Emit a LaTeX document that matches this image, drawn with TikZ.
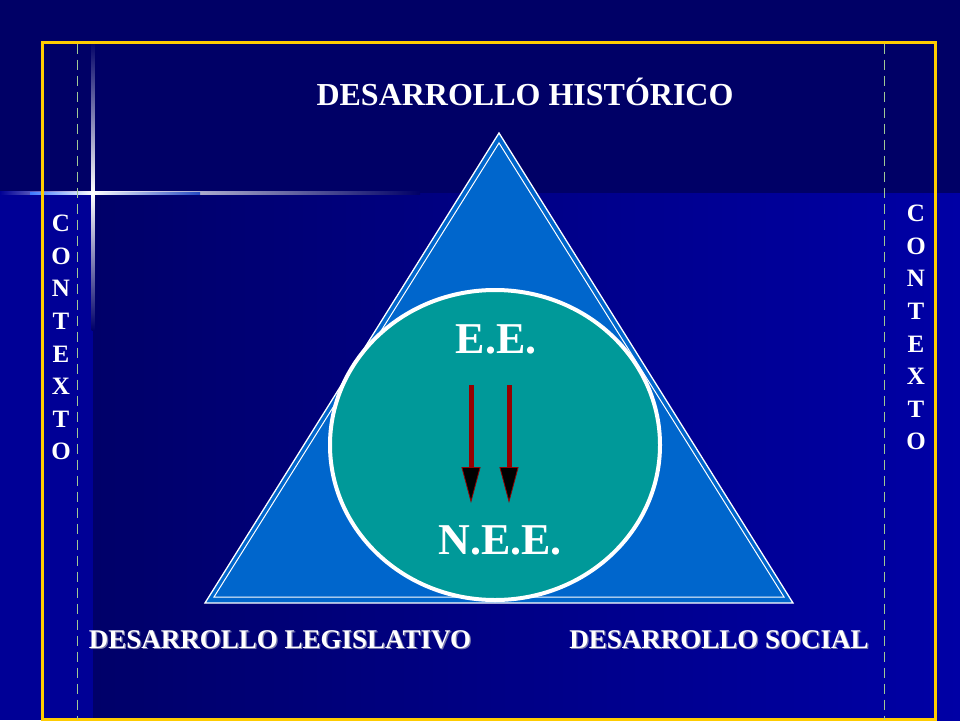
\documentclass[tikz,border=0pt]{standalone}
\usepackage{fontspec}
\setmainfont{Liberation Serif}
\usetikzlibrary{arrows.meta,shapes.geometric}
\definecolor{navy}{RGB}{0,0,102}
\definecolor{bgleft}{RGB}{0,0,150}
\definecolor{bgdark}{RGB}{0,0,105}
\definecolor{bgright}{RGB}{0,0,165}
\definecolor{triblue}{RGB}{0,102,204}
\definecolor{circteal}{RGB}{0,153,153}
\definecolor{arrred}{RGB}{150,0,0}
\definecolor{frameyellow}{RGB}{255,204,0}
\definecolor{dashgreen}{RGB}{160,200,150}
\definecolor{glow}{RGB}{60,120,255}
\definecolor{shadowgray}{RGB}{120,120,170}
\tikzset{
  lbl/.style={text=white, inner sep=0pt, anchor=base, font=\bfseries\fontsize{27}{32}\selectfont},
  shd/.style={lbl, text=shadowgray},
  biglbl/.style={text=white, inner sep=0pt, anchor=base, font=\bfseries\fontsize{44}{50}\selectfont},
  vert/.style={text=white, inner sep=0pt, anchor=north, align=center, font=\bfseries\fontsize{25}{32.6}\selectfont},
  arr/.style={draw=arrred, line width=5pt, -{Triangle[width=19pt,length=36pt,fill=black,line width=0.8pt]}},
  dashline/.style={draw=dashgreen, line width=0.9pt, dash pattern=on 10pt off 6pt},
}
\begin{document}
\begin{tikzpicture}[x=1pt,y=-1pt]
\useasboundingbox (0,0) rectangle (960,720);
% background
\fill[navy] (0,0) rectangle (960,720);
\fill[bgleft] (0,193) rectangle (93,720);
\shade[left color=bgdark, right color=bgright] (93,193) rectangle (960,720);
% flare
\shade[left color=bgleft, right color=white] (0,191.5) rectangle (93,194.5);
\shade[left color=white, right color=navy] (93,191.5) rectangle (420,194.5);
\shade[top color=navy, bottom color=white] (91.5,40) rectangle (94.5,193);
\shade[top color=white, bottom color=bgdark] (91.5,193) rectangle (94.5,330);
\shade[left color=glow, right color=white] (30,192) rectangle (93,194);
\shade[left color=white, right color=glow!60!navy] (93,192) rectangle (200,194);
% frame
\draw[frameyellow, line width=3pt] (42,42) rectangle (935,719);
\draw[dashline] (77,43.5) -- (77,720);
\draw[dashline] (884,43.5) -- (884,720);
% triangle
\draw[white, line width=1.3pt, fill=triblue] (499,133) -- (205,603) -- (793,603) -- cycle;
\draw[white, line width=1pt] (499,143) -- (214,597) -- (784,597) -- cycle;
% circle
\node[ellipse, draw=white, line width=4pt, fill=circteal, minimum width=330pt, minimum height=310pt, inner sep=0pt] (circ) at (495,445) {};
% texts
\node[lbl, font=\bfseries\fontsize{32}{36}\selectfont] (hist) at (525,105) {DESARROLLO HISTÓRICO};
\node[shd] (legiss) at (281.2,649.2) {DESARROLLO LEGISLATIVO};
\node[shd] (socials) at (720.2,649.2) {DESARROLLO SOCIAL};
\node[lbl] (legis) at (280,648) {DESARROLLO LEGISLATIVO};
\node[lbl] (social) at (719,648) {DESARROLLO SOCIAL};
\node[biglbl] (ee) at (496,353) {E.E.};
\node[biglbl] (nee) at (500,554) {N.E.E.};
\node[vert] (ctxl) at (61,215) {C\\O\\N\\T\\E\\X\\T\\O};
\node[vert] (ctxr) at (916,205) {C\\O\\N\\T\\E\\X\\T\\O};
% arrows
\coordinate (a1s) at (471,385);
\coordinate (a1e) at (471,503);
\coordinate (a2s) at (509,385);
\coordinate (a2e) at (509,503);
\draw[arr] (a1s) -- (a1e);
\draw[arr] (a2s) -- (a2e);
\end{tikzpicture}
\end{document}
